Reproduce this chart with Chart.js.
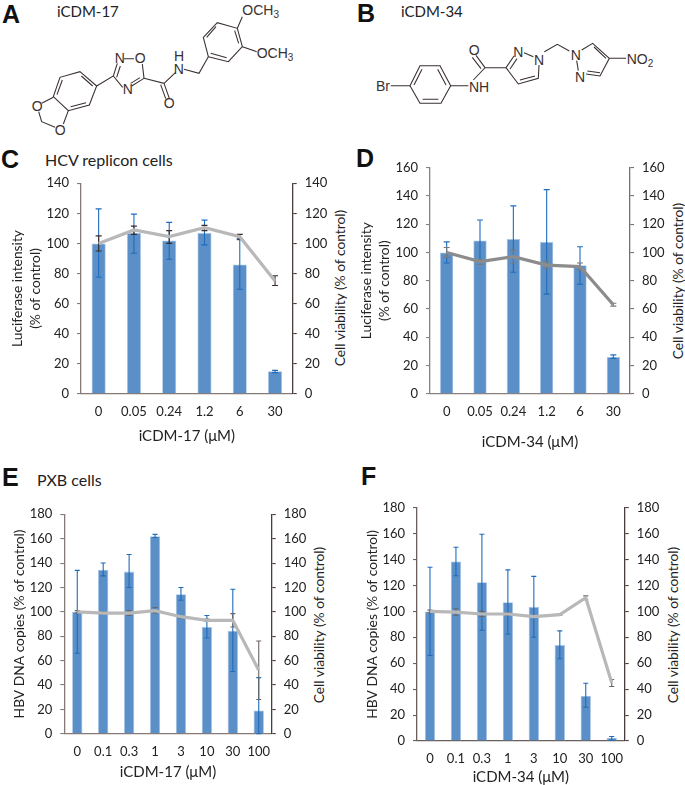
<!DOCTYPE html>
<html>
<head>
<meta charset="utf-8">
<script src="https://cdn.jsdelivr.net/npm/chart.js@4"></script>
<style>
  html, body { margin: 0; padding: 0; background: #fff; }
  body { position: relative; width: 685px; height: 785px; overflow: hidden; font-family: Lato, sans-serif; color: #222; }
  canvas { position: absolute; }
  .letter { position: absolute; font: bold 25px "Liberation Sans", sans-serif; color: #111; line-height: 25px; }
  .head { position: absolute; font-size: 16px; line-height: 18px; white-space: nowrap; color: #222; }
  .rtitle { position: absolute; font-size: 13.8px; white-space: nowrap; color: #222; transform: translate(-50%, -50%) rotate(-90deg); }
  svg { position: absolute; }
  svg text { font-family: "Liberation Sans", sans-serif; font-size: 42px; fill: #3a3030; }
  svg path { fill: none; stroke: #3a3030; stroke-width: 3.2; }
</style>
</head>
<body>

<div class="letter" style="left:2px;top:2px">A</div>
<div class="letter" style="left:357px;top:1px">B</div>
<div class="letter" style="left:1px;top:147px">C</div>
<div class="letter" style="left:356px;top:146px">D</div>
<div class="letter" style="left:2px;top:465px">E</div>
<div class="letter" style="left:361px;top:464px">F</div>

<div class="head" style="left:57px;top:2px;font-size:15px">iCDM-17</div>
<div class="head" style="left:401px;top:2px;font-size:15px">iCDM-34</div>
<div class="head" style="left:45px;top:151px">HCV replicon cells</div>
<div class="head" style="left:37px;top:471px">PXB cells</div>

<!-- structures are plain drawings, not chart data -->
<svg style="left:0;top:0" width="310" height="150" viewBox="0 0 930 450">
  <path d="M240 215L290 258L268 315L205 332L160 290L180 232Z"/>
  <path d="M244 228L278 258M258 308L212 320M171 284L187 240"/>
  <path d="M160 292L125 310M205 332L190 372M116 335L125 365L165 382"/>
  <path d="M290 258L340 228L352 190M350 232L361 198M372 176L402 176M427 192L432 235L395 258M420 233L392 250M368 262L340 228"/>
  <path d="M432 235L492 250L527 217M492 250L508 295M482 254L497 296M552 208L597 220L625 170"/>
  <path d="M625 170L685 185L727 140L712 85L652 68L610 112Z"/>
  <path d="M632 160L680 173M716 130L704 92M648 80L620 112"/>
  <path d="M712 85L727 50M727 140L770 155"/>
  <text x="95" y="334">O</text><text x="164" y="404">O</text>
  <text x="344" y="190">N</text><text x="404" y="190">O</text><text x="368" y="283">N</text>
  <text x="521" y="222">N</text><text x="522" y="184">H</text><text x="491" y="324">O</text>
  <text x="727" y="46">OCH<tspan font-size="30" dy="8">3</tspan></text>
  <text x="770" y="174">OCH<tspan font-size="30" dy="8">3</tspan></text>
</svg>

<svg style="left:350px;top:0" width="320" height="150" viewBox="0 0 960 450">
  <path d="M180 257L210 197L270 197L302 257L273 310L210 310Z"/>
  <path d="M192 255L216 208M263 208L288 255M218 298L265 298"/>
  <path d="M122 257L180 257M302 257L355 257M370 240L405 203L468 203M405 203L378 166M393 206L367 172"/>
  <path d="M468 203L492 168M480 207L501 176M522 158L550 170M567 195L565 235L505 252L468 203M555 228L510 240"/>
  <path d="M583 155L622 133L658 153M695 150L728 130L778 175L750 228L708 222M732 141L768 175M750 218L712 213M680 182L685 212M778 175L828 175"/>
  <text x="78" y="272">Br</text><text x="357" y="276">NH</text><text x="356" y="164">O</text>
  <text x="490" y="170">N</text><text x="552" y="195">N</text>
  <text x="662" y="180">N</text><text x="675" y="246">N</text>
  <text x="830" y="192">NO<tspan font-size="30" dy="8">2</tspan></text>
</svg>

<div class="rtitle" style="left:339px;top:288px">Cell viability (% of control)</div>
<div class="rtitle" style="left:677px;top:281px">Cell viability (% of control)</div>
<div class="rtitle" style="left:318px;top:625px">Cell viability (% of control)</div>
<div class="rtitle" style="left:672px;top:625px">Cell viability (% of control)</div>

<canvas id="chartC" width="345" height="300" style="left:0;top:150px"></canvas>
<canvas id="chartD" width="340" height="310" style="left:345px;top:150px"></canvas>
<canvas id="chartE" width="345" height="320" style="left:0;top:465px"></canvas>
<canvas id="chartF" width="340" height="320" style="left:345px;top:465px"></canvas>

<script>
// panel C
const catC = ['0', '0.05', '0.24', '1.2', '6', '30'];
const barC = [100, 107, 102, 107, 86, 15];
const barLowC = [77.5, 93.5, 89.5, 99, 69.5, 14];
const barHighC = [123, 119.5, 114, 115.5, 102.5, 15.5];
const viaC = [100, 109, 104.5, 110.5, 104.5, 75];
const viaLowC = [95, 106, 100, 108.5, 103, 72];
const viaHighC = [105, 111.5, 108.5, 112, 106, 78.5];

// panel D
const catD = ['0', '0.05', '0.24', '1.2', '6', '30'];
const barD = [100, 108.5, 109.5, 107.5, 91, 26];
const barLowD = [92.5, 94, 86, 70.5, 77.5, 25];
const barHighD = [107.5, 123, 133, 144.5, 104, 27.5];
const viaD = [100, 93.5, 97, 91, 90, 63];
const viaLowD = [96.5, 91.5, 92.5, 88.5, 87.5, 62];
const viaHighD = [103.5, 95, 101.5, 93.5, 92.5, 64];

// panel E
const catE = ['0', '0.1', '0.3', '1', '3', '10', '30', '100'];
const barE = [100, 134.5, 133, 162, 114.5, 87.5, 84.5, 19];
const barLowE = [66, 129.5, 120, 161, 109.5, 78.5, 51, 0];
const barHighE = [134, 140, 147, 163.5, 120, 97, 118.5, 46];
const viaE = [100, 99, 99, 101, 96, 93, 93, 52];
const viaLowE = [99, 98, 97, 99, 95, 92, 87.5, 28];
const viaHighE = [101, 100, 101, 103.5, 97, 94, 98.5, 76];

// panel F
const catF = ['0', '0.1', '0.3', '1', '3', '10', '30', '100'];
const barF = [100, 138.5, 122.5, 107, 103.5, 74, 35, 2.5];
const barLowF = [66, 127.5, 85.5, 82.5, 80, 63.5, 26, 0.5];
const barHighF = [134, 149.5, 159.5, 132, 127, 85, 44.5, 3.5];
const viaF = [100, 99.5, 98, 98, 96, 97.5, 110.5, 45];
const viaLowF = [99, 97, 96, 97, 95.5, 97, 109, 42];
const viaHighF = [101, 102, 100, 99, 96.5, 98, 112, 47.5];

const FONT = 'Lato, sans-serif';

// error bars go on top of the bars but under the grey line
const errorBars = {
  id: 'errorBars',
  afterDatasetDraw(chart, args, opts) {
    if (args.meta.type !== 'bar') return;
    const { ctx, scales } = chart;
    const draw = (low, high, yScale, color) => {
      ctx.strokeStyle = color;
      ctx.lineWidth = 1.1;
      low.forEach((v, i) => {
        const x = scales.x.getPixelForValue(i);
        const y0 = yScale.getPixelForValue(v);
        const y1 = yScale.getPixelForValue(high[i]);
        ctx.beginPath();
        ctx.moveTo(x, y0); ctx.lineTo(x, y1);
        ctx.moveTo(x - opts.cap, y0); ctx.lineTo(x + opts.cap, y0);
        ctx.moveTo(x - opts.cap, y1); ctx.lineTo(x + opts.cap, y1);
        ctx.stroke();
      });
    };
    ctx.save();
    draw(opts.barLow, opts.barHigh, scales.y, '#1f6cbd');
    draw(opts.viaLow, opts.viaHigh, scales.y2, opts.viaErrColor);
    ctx.restore();
  }
};

function makePanel(id, p) {
  const cv = document.getElementById(id);
  const tickFont = { family: FONT, size: 13 };
  const lh = 18;
  const sideAxis = (position, width, color) => ({
    type: 'linear',
    position,
    min: 0,
    max: p.max,
    afterFit: s => { s.width = width; },
    border: { color, width: 1.3 },
    grid: { drawOnChartArea: false, tickLength: 4, color, lineWidth: 1.1 },
    ticks: { stepSize: 20, padding: 8, color: '#222', font: tickFont }
  });
  const y = sideAxis('left', p.plot[0], p.leftColor);
  y.title = {
    display: true,
    text: p.yTitle,
    color: '#222',
    padding: { top: p.yTitleX - lh / 2, bottom: 0 },
    font: { family: FONT, size: 13.8, lineHeight: lh / 13.8 }
  };
  new Chart(cv, {
    data: {
      labels: p.labels,
      datasets: [
        { type: 'bar', data: p.bars, yAxisID: 'y', order: 2, backgroundColor: '#5b8fc7', borderColor: '#a9c7e8', borderWidth: 0.8, barPercentage: 0.4, categoryPercentage: 1 },
        { type: 'line', data: p.via, yAxisID: 'y2', order: 1, borderColor: p.lineColor, borderWidth: 3.2, pointRadius: 0, tension: 0 }
      ]
    },
    options: {
      responsive: false,
      animation: false,
      layout: { padding: { top: p.plot[2], left: 0, right: 0, bottom: 0 } },
      plugins: {
        legend: { display: false },
        tooltip: { enabled: false },
        errorBars: { barLow: p.barLow, barHigh: p.barHigh, viaLow: p.viaLow, viaHigh: p.viaHigh, viaErrColor: p.viaErrColor, cap: p.cap }
      },
      scales: {
        x: {
          afterFit: s => { s.height = cv.height - p.plot[3]; },
          border: { color: p.leftColor, width: 1.3 },
          grid: { display: false, drawTicks: false },
          ticks: { padding: p.xPad, color: '#222', font: tickFont, maxRotation: 0 },
          title: {
            display: true,
            text: p.xTitle,
            color: '#222',
            padding: { top: 0, bottom: cv.height - p.xTitleY - lh / 2 },
            font: { family: FONT, size: 15, lineHeight: lh / 15 }
          }
        },
        y,
        y2: sideAxis('right', cv.width - p.plot[1], p.rightColor)
      }
    },
    plugins: [errorBars]
  });
}

// plot = [left, right, top, bottom] inside each canvas
makePanel('chartC', {
  labels: catC, bars: barC, barLow: barLowC, barHigh: barHighC, via: viaC, viaLow: viaLowC, viaHigh: viaHighC,
  max: 140, plot: [81, 292.7, 33.3, 243.7], cap: 3, xPad: 10, xTitleY: 286, yTitleX: 18,
  yTitle: ['Luciferase intensity', '(% of control)'], xTitle: 'iCDM-17 (μM)',
  lineColor: '#b8b8b8', viaErrColor: '#3a2c2a', leftColor: '#857a78', rightColor: '#4a3c3a'
});
makePanel('chartD', {
  labels: catD, bars: barD, barLow: barLowD, barHigh: barHighD, via: viaD, viaLow: viaLowD, viaHigh: viaHighD,
  max: 160, plot: [85, 285, 17.7, 243.7], cap: 3, xPad: 10, xTitleY: 291.7, yTitleX: 22,
  yTitle: ['Luciferase intensity', '(% of control)'], xTitle: 'iCDM-34 (μM)',
  lineColor: '#8c8c8c', viaErrColor: '#7a7a7a', leftColor: '#8a8080', rightColor: '#7a7070'
});
makePanel('chartE', {
  labels: catE, bars: barE, barLow: barLowE, barHigh: barHighE, via: viaE, viaLow: viaLowE, viaHigh: viaHighE,
  max: 180, plot: [64.3, 271.7, 49.3, 268.7], cap: 2.5, xPad: 10, xTitleY: 307, yTitleX: 20,
  yTitle: 'HBV DNA copies (% of control)', xTitle: 'iCDM-17 (μM)',
  lineColor: '#b8b8b8', viaErrColor: '#6a6462', leftColor: '#857a78', rightColor: '#4a3c3a'
});
makePanel('chartF', {
  labels: catF, bars: barF, barLow: barLowF, barHigh: barHighF, via: viaF, viaLow: viaLowF, viaHigh: viaHighF,
  max: 180, plot: [72, 279.7, 42.7, 276], cap: 2.5, xPad: 10, xTitleY: 311.7, yTitleX: 28,
  yTitle: 'HBV DNA copies (% of control)', xTitle: 'iCDM-34 (μM)',
  lineColor: '#b8b8b8', viaErrColor: '#6a6462', leftColor: '#6a5e5c', rightColor: '#4a3c3a'
});
</script>
</body>
</html>
